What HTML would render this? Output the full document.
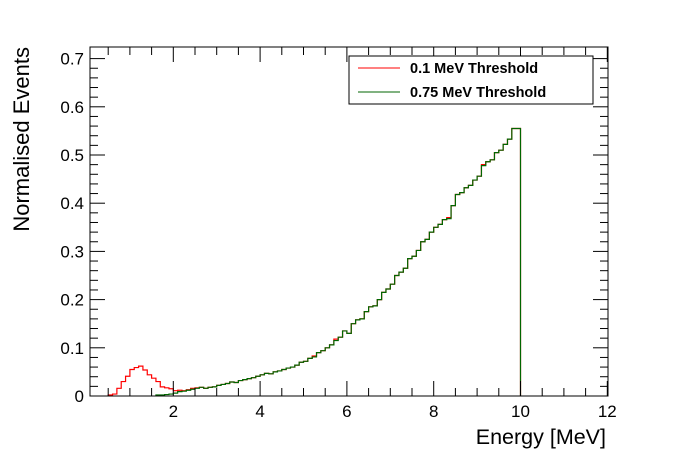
<!DOCTYPE html>
<html><head><meta charset="utf-8"><style>
body{margin:0;background:#fff;}
svg{display:block;font-family:"Liberation Sans",Arial,sans-serif;}
</style></head><body>
<svg id="c" width="698" height="473"></svg>
<script>
const binStart=0.5, binWidth=0.1;
const red=[0.002,0.004,0.016,0.030,0.041,0.055,0.059,0.062,0.054,0.044,
0.037,0.030,0.019,0.017,0.015,0.011,0.012,0.011,0.013,0.016,
0.017,0.018,0.016,0.018,0.019,0.022,0.024,0.026,0.029,0.028,
0.032,0.034,0.036,0.038,0.041,0.044,0.047,0.046,0.050,0.052,
0.055,0.058,0.060,0.064,0.070,0.072,0.078,0.083,0.090,0.094,
0.100,0.106,0.118,0.122,0.135,0.130,0.150,0.158,0.160,0.175,
0.185,0.187,0.200,0.215,0.222,0.232,0.250,0.257,0.265,0.285,
0.290,0.302,0.320,0.325,0.340,0.350,0.356,0.366,0.370,0.395,
0.418,0.422,0.432,0.437,0.448,0.456,0.480,0.486,0.490,0.505,
0.510,0.522,0.533,0.555,0.555];
const green=[0,0,0,0,0,0,0,0,0,0,
0,0.002,0.002,0.003,0.004,0.006,0.009,0.010,0.012,0.014,
0.016,0.018,0.016,0.018,0.019,0.022,0.024,0.026,0.029,0.028,
0.032,0.034,0.036,0.038,0.041,0.044,0.047,0.046,0.050,0.052,
0.055,0.058,0.060,0.064,0.070,0.072,0.078,0.081,0.090,0.094,
0.100,0.106,0.115,0.122,0.135,0.130,0.150,0.158,0.160,0.175,
0.185,0.187,0.200,0.215,0.222,0.232,0.250,0.257,0.265,0.285,
0.290,0.302,0.320,0.325,0.340,0.350,0.356,0.366,0.368,0.395,
0.418,0.422,0.432,0.437,0.448,0.456,0.478,0.486,0.490,0.505,
0.510,0.522,0.533,0.555,0.555];
const xTicks=[2,4,6,8,10,12];
const yTicks=[0,0.1,0.2,0.3,0.4,0.5,0.6,0.7];
const L=90,R=608,T=47,B=396;
const px=x=>86.5+43.4*x;
const py=y=>396-482*y;
const svg=document.getElementById('c');
const NS='http://www.w3.org/2000/svg';
function mk(tag,a,parent){const e=document.createElementNS(NS,tag);for(const k in a)e.setAttribute(k,a[k]);(parent||svg).appendChild(e);return e;}
function hist(vals,color,name){
  let first=vals.findIndex(v=>v>0);let d='';
  for(let i=first;i<vals.length;i++){
    const x0=px(binStart+i*binWidth),x1=px(binStart+(i+1)*binWidth),y=py(vals[i]);
    if(i===first)d+=`M${x0},${B}L${x0},${y}`;else d+=`L${x0},${y}`;
    d+=`L${x1},${y}`;
  }
  d+=`L${px(binStart+vals.length*binWidth)},${B}`;
  const p=mk('path',{d:d,fill:'none',stroke:color,'stroke-width':1.2});
  
  
}
hist(red,'#ff0000','series-0.1-mev');
hist(green,'#006600','series-0.75-mev');
const f=mk('rect',{x:L,y:T,width:R-L,height:B-T,fill:'none',stroke:'#000','stroke-width':1});

for(let v=0.5;v<=12.001;v+=0.5){
  const x=px(v);if(x<L)continue;
  const major=Math.abs(v/2-Math.round(v/2))<1e-6;const len=major?15:8;
  mk('line',{x1:x,y1:B,x2:x,y2:B-len,stroke:'#000'});
  mk('line',{x1:x,y1:T,x2:x,y2:T+len,stroke:'#000'});
}
for(let v=0;v<=0.72;v+=0.02){
  const y=py(v);const major=Math.abs(v*10-Math.round(v*10))<1e-6;const len=major?15:8;
  mk('line',{x1:L,y1:y,x2:L+len,y2:y,stroke:'#000'});
  mk('line',{x1:R,y1:y,x2:R-len,y2:y,stroke:'#000'});
}
xTicks.forEach(v=>{const t=mk('text',{x:px(v),y:417,'font-size':17,'text-anchor':'middle'});t.textContent=v;
});
yTicks.forEach(v=>{const t=mk('text',{x:84,y:py(v)+6,'font-size':17,'text-anchor':'end'});t.textContent=v===0?'0':v.toFixed(1);
});
let t=mk('text',{x:606,y:444,'font-size':21.5,'text-anchor':'end'});t.textContent='Energy [MeV]';

t=mk('text',{x:0,y:0,'font-size':22,'text-anchor':'end',transform:'translate(29,47) rotate(-90)'});t.textContent='Normalised Events';

const g=mk('g',{});
mk('rect',{x:349,y:56,width:244,height:48,fill:'#fff',stroke:'#000'},g);
[['0.1 MeV Threshold','#ff0000',68],['0.75 MeV Threshold','#006600',92]].forEach(([lab,c,y])=>{
  const e=mk('g',{},g);
  mk('line',{x1:358,y1:y,x2:400,y2:y,stroke:c,'stroke-width':1},e);
  const tt=mk('text',{x:410,y:y+5,'font-size':14.5,'font-weight':'bold'},e);tt.textContent=lab;
});
</script>
</body></html>
